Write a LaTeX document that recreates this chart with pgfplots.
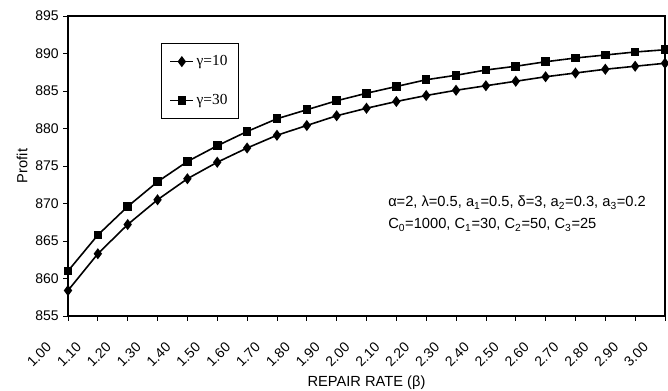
\documentclass[border=0pt]{standalone}
\usepackage{pgfplots}
\pgfplotsset{compat=1.18}
\usepackage{fontspec}
\setmainfont{Liberation Sans}
\newfontfamily\seriffont{Liberation Serif}
\begin{document}
\begin{tikzpicture}
\useasboundingbox (-51pt,-55.5pt) rectangle (450pt,237pt);
\begin{axis}[
  at={(0,0)}, anchor=south west,
  scale only axis, width=447.75pt, height=225pt,
  xmin=1, xmax=3, ymin=855, ymax=895,
  xtick={1,1.1,...,3.05}, ytick={855,860,...,895},
  tick align=outside, tick pos=left,
  major tick length=3.5pt,
  axis line style={line width=0.9pt},
  tick style={line width=0.6pt, black},
  xticklabel={\pgfmathprintnumber[fixed,fixed zerofill,precision=2]{\tick}},
  yticklabel={\pgfmathprintnumber[fixed,precision=0]{\tick}},
  /pgf/number format/assume math mode=true,
  ticklabel style={font=\fontsize{10.5}{12}\selectfont},
  xticklabel style={xshift=-17pt, yshift=-10.5pt, rotate=45, anchor=north east},
  xlabel={REPAIR RATE (β)}, ylabel={Profit},
  label style={font=\fontsize{11}{13}\selectfont},
  xlabel style={yshift=2pt},
  ylabel style={yshift=-1pt},
  legend style={at={(rel axis cs:0.156,0.91)}, anchor=north west,
    draw=black, line width=0.8pt, font=\seriffont\fontsize{11.5}{13}\selectfont,
    row sep=16pt, inner xsep=6pt, inner ysep=7pt},
  legend cell align=left,
  legend image post style={line width=1.2pt},
]
\addplot[black, line width=1.2pt, mark=diamond*, mark size=3.2pt, mark options={solid}] coordinates {
(1.0,858.4) (1.1,863.3) (1.2,867.2) (1.3,870.5) (1.4,873.3) (1.5,875.5)
(1.6,877.4) (1.7,879.1) (1.8,880.4) (1.9,881.7) (2.0,882.7) (2.1,883.6)
(2.2,884.4) (2.3,885.1) (2.4,885.7) (2.5,886.3) (2.6,886.9) (2.7,887.4)
(2.8,887.9) (2.9,888.3) (3.0,888.7)};
\addlegendentry{γ=10}
\addplot[black, line width=1.2pt, mark=square*, mark size=2.6pt, mark options={solid}] coordinates {
(1.0,861.0) (1.1,865.8) (1.2,869.6) (1.3,872.9) (1.4,875.6) (1.5,877.7)
(1.6,879.6) (1.7,881.3) (1.8,882.5) (1.9,883.7) (2.0,884.7) (2.1,885.6)
(2.2,886.5) (2.3,887.1) (2.4,887.8) (2.5,888.3) (2.6,888.9) (2.7,889.4)
(2.8,889.8) (2.9,890.2) (3.0,890.5)};
\addlegendentry{γ=30}
\node[anchor=north west, align=left, inner sep=0pt, font=\fontsize{11}{16.5}\selectfont]
  at (rel axis cs:0.536,0.40)
  {α=2, λ=0.5, a\textsubscript{1}=0.5, δ=3, a\textsubscript{2}=0.3, a\textsubscript{3}=0.2\\
   C\textsubscript{0}=1000, C\textsubscript{1}=30, C\textsubscript{2}=50, C\textsubscript{3}=25};
\end{axis}
\end{tikzpicture}
\end{document}
